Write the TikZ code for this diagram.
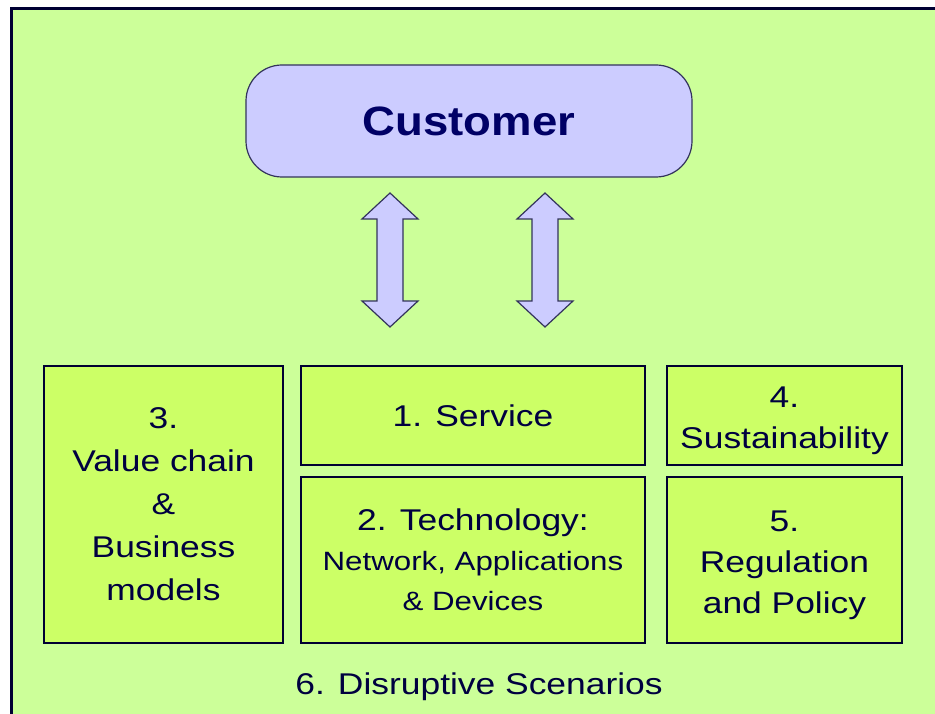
\documentclass[tikz,border=0pt]{standalone}
\usepackage{fontspec}
\setmainfont{Liberation Sans}[FakeStretch=1.18]
\newfontfamily\titlefont{Liberation Sans}[FakeStretch=1.11]
\definecolor{bggreen}{HTML}{CCFF99}
\definecolor{boxgreen}{HTML}{CCFF66}
\definecolor{lavender}{HTML}{CCCCFF}
\definecolor{navy}{HTML}{000033}
\definecolor{inkblue}{HTML}{000040}
\begin{document}
\begin{tikzpicture}[x=1pt,y=-1pt,
  frame/.style={draw=navy,line width=3pt},
  custbox/.style={draw=navy!80,line width=1.2pt,fill=lavender,rounded corners=36pt,
    minimum width=446pt,minimum height=112pt,inner sep=0pt,
    font=\titlefont\fontsize{41}{44}\selectfont\bfseries,text=inkblue!80!blue},
  topic/.style={draw=navy,line width=2pt,fill=boxgreen,inner sep=0pt,align=center,
    text=inkblue,font=\fontsize{30}{43}\selectfont},
  topictext/.style={inner sep=0pt,align=center,text=inkblue,
    font=\fontsize{30}{41}\selectfont,yshift=-5pt},
  blockarrow/.style={draw=navy!80,line width=1.2pt,fill=lavender,line join=miter},
  updown/.pic={
    \path[blockarrow] (0,0) -- (28,26) -- (13,26) -- (13,108) -- (28,108)
      -- (0,134) -- (-28,108) -- (-13,108) -- (-13,26) -- (-28,26) -- cycle;
  }]
\useasboundingbox (0,0) rectangle (935,714);
% page background and frame
\fill[white] (0,0) rectangle (935,714);
\fill[bggreen] (11,9) rectangle (935,714);
\draw[frame] (11,716) -- (11,9) -- (937,9);

% customer at the top
\node[custbox] (customer) at (469,121) {Customer};

% two-way exchange between customer and the topics
\pic at (390,193) {updown};
\pic at (545,193) {updown};

% topic boxes
\node[topic,minimum width=239pt,minimum height=277pt] (valuechain) at (163.5,504.5)
  {3.\\Value chain\\\&\\Business\\models};
\node[topic,minimum width=344pt,minimum height=99pt] (service) at (473,415.5)
  {1. Service};
\node[topic,minimum width=344pt,minimum height=166pt,
  font=\fontsize{26.5}{40}\selectfont] (technology) at (473,560)
  {{\fontsize{30}{40}\selectfont 2. Technology:}\\Network, Applications\\\& Devices};
\node[topic,minimum width=235pt,minimum height=99pt,
  label={[topictext]center:4.\\Sustainability}] (sustain) at (784.5,415.5) {};
\node[topic,minimum width=235pt,minimum height=166pt,
  label={[topictext]center:5.\\Regulation\\and Policy}] (regulation) at (784.5,560) {};

% overarching theme
\node[text=inkblue,font=\fontsize{30}{34}\selectfont] (scenarios) at (479,687)
  {6. Disruptive Scenarios};
\end{tikzpicture}
\end{document}
